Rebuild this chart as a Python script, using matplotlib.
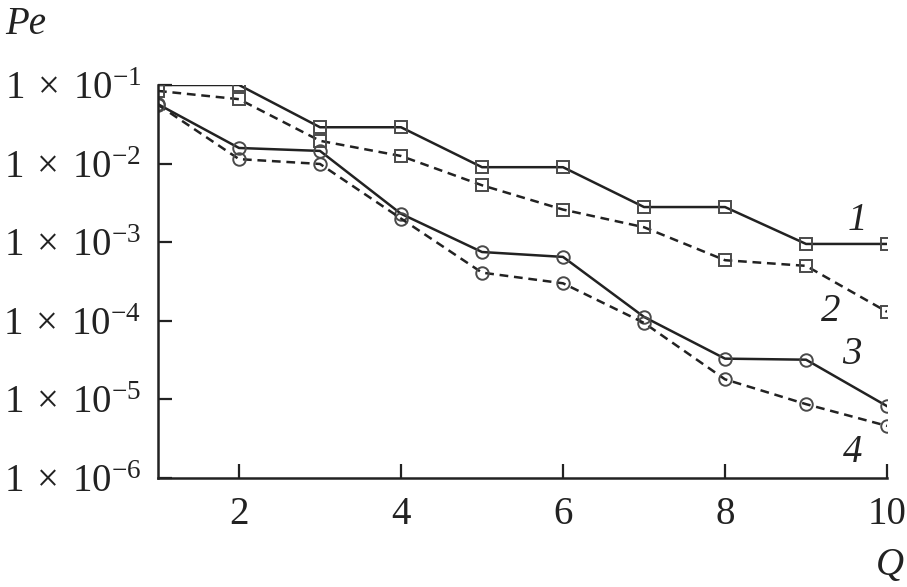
import numpy as np
import matplotlib as mpl
mpl.use('Agg')
import matplotlib.pyplot as plt
from matplotlib.ticker import FixedLocator, FuncFormatter

mpl.rcParams['font.family'] = ['Liberation Serif', 'DejaVu Serif']
mpl.rcParams['mathtext.fontset'] = 'custom'
mpl.rcParams['mathtext.rm'] = 'Liberation Serif'
mpl.rcParams['mathtext.it'] = 'Liberation Serif:italic'
mpl.rcParams['axes.spines.right'] = False
mpl.rcParams['axes.spines.top'] = False

Q = [1, 2, 3, 4, 5, 6, 7, 8, 9, 10]
pe1 = [1.0e-1, 1.0e-1, 2.9e-2, 2.9e-2, 9.0e-3, 9.0e-3, 2.8e-3, 2.8e-3, 9.5e-4, 9.5e-4]
pe2 = [8.4e-2, 6.6e-2, 1.95e-2, 1.25e-2, 5.3e-3, 2.6e-3, 1.55e-3, 5.9e-4, 5.0e-4, 1.3e-4]
pe3 = [5.7e-2, 1.58e-2, 1.45e-2, 2.3e-3, 7.5e-4, 6.5e-4, 1.12e-4, 3.3e-5, 3.2e-5, 8.2e-6]
pe4 = [5.6e-2, 1.14e-2, 9.9e-3, 2.0e-3, 4.1e-4, 3.0e-4, 9.4e-5, 1.8e-5, 8.7e-6, 4.6e-6]

curve_labels = ['1', '2', '3', '4']
label_pos = [(9.63, 1.9e-3), (9.30, 1.33e-4), (9.57, 3.7e-5), (9.57, 2.1e-6)]

xticks = [2, 4, 6, 8, 10]
yticks = [1e-6, 1e-5, 1e-4, 1e-3, 1e-2, 1e-1]

fig = plt.figure(figsize=(9.07, 5.87), dpi=100)
ax = fig.add_axes([0.1742, 0.1857, 0.8038, 0.6695])

lc = '#222222'
mc = '#4a4a4a'
dash = (0, (3.5, 2.3))
kw = dict(lw=1.8, color=lc, markersize=9, markerfacecolor='none',
          markeredgecolor=mc, markeredgewidth=1.4)

ax.plot(Q, pe1, marker='s', linestyle='-', **kw)
ax.plot(Q, pe2, marker='s', linestyle=dash, **kw)
ax.plot(Q, pe3, marker='o', linestyle='-', **kw)
ax.plot(Q, pe4, marker='o', linestyle=dash, **kw)

ax.set_yscale('log')
ax.set_xlim(1, 10)
ax.set_ylim(1e-6, 1e-1)
ax.xaxis.set_major_locator(FixedLocator(xticks))
ax.yaxis.set_major_locator(FixedLocator(yticks))
ax.yaxis.set_minor_locator(FixedLocator([]))
ax.yaxis.set_major_formatter(FuncFormatter(
    lambda v, p: r'$1\;\times\;10^{%d}$' % int(round(np.log10(v)))))

ax.tick_params(direction='in', length=10, width=1.6, colors=lc,
               labelsize=28, pad=12)
ax.tick_params(axis='x', pad=13)
for s in ['left', 'bottom']:
    ax.spines[s].set_linewidth(1.8)
    ax.spines[s].set_color(lc)

for lab, (x, y) in zip(curve_labels, label_pos):
    ax.text(x, y, lab, fontsize=28, style='italic', color=lc,
            ha='center', va='center')

fig.text(0.006, 0.958, 'Pe', fontsize=28, style='italic', color=lc,
         ha='left', va='center')
fig.text(0.997, 0.036, 'Q', fontsize=28, style='italic', color=lc,
         ha='right', va='center')

fig.savefig('out.png', dpi=100)
